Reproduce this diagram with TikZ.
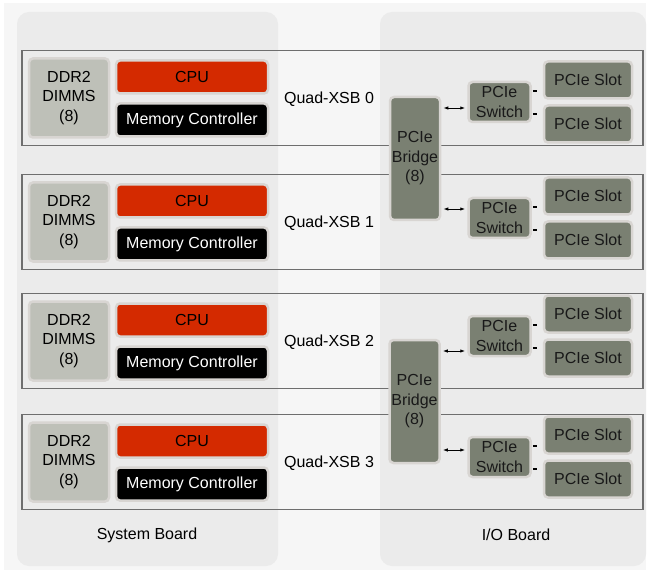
\documentclass[tikz,border=0pt]{standalone}
\usepackage{fontspec}
\setmainfont{Liberation Sans}
\usetikzlibrary{arrows.meta, positioning}
\definecolor{pagebg}{HTML}{F6F6F6}
\definecolor{panelbg}{HTML}{EBEBEB}
\definecolor{rowline}{HTML}{6E6E6E}
\definecolor{ddrfill}{HTML}{BEC0B8}
\definecolor{cpufill}{HTML}{D42A00}
\definecolor{pcifill}{HTML}{7A8072}
\definecolor{rim}{HTML}{D8D5D2}
\newcommand{\txt}{\fontsize{16}{19.5}\selectfont}
\tikzstyle{box} = [draw=rim, line width=2.5pt, rounded corners=4pt, inner sep=0pt, align=center, font=\txt]
\tikzstyle{ddr} = [box, fill=ddrfill, minimum width=80pt, minimum height=79pt]
\tikzstyle{cpu} = [box, fill=cpufill, minimum width=152pt, minimum height=33pt]
\tikzstyle{mc} = [box, fill=black, text=white, minimum width=152pt, minimum height=33pt]
\tikzstyle{pci} = [box, fill=pcifill, text=black!90]
\tikzstyle{quad} = [draw=rowline, line width=1.2pt, minimum width=621pt, minimum height=95pt, inner sep=0pt]
\tikzstyle{panel} = [fill=panelbg, rounded corners=12pt]
\tikzstyle{link} = [{Latex[length=5pt,width=3.5pt]}-{Latex[length=5pt,width=3.5pt]}, line width=0.9pt, shorten <=2pt, shorten >=2pt]
\tikzstyle{stub} = [line width=2.5pt]

\begin{document}
\begin{tikzpicture}[x=1pt, y=-1pt]
  \useasboundingbox (0,0) rectangle (648,572);
  \fill[white] (0,0) rectangle (648,572);
  \fill[pagebg] (4,3) rectangle (646,570);
  % the two boards
  \fill[panel] (17,12) rectangle (278,566);
  \fill[panel] (380,12) rectangle (646,566);
  \node[font=\txt] (sysb) at (147,535) {System Board};
  \node[font=\txt] (iob) at (516,535) {I/O Board};
  % one row per Quad-XSB
  \foreach \r/\y/\s in {0/98/102, 1/222/218, 2/341/336, 3/462/457} {
    \node[quad] (row\r) at (332.5,\y) {};
    \node[ddr] (ddr\r) at (69,\y) {DDR2\\DIMMS\\(8)};
    \node[cpu] (cpu\r) at (192,\y-21) {CPU};
    \node[mc] (mc\r) at (192,\y+22) {Memory Controller};
    \node[font=\txt] (xsb\r) at (329,\y+1) {Quad-XSB \r};
    \node[pci, minimum width=62pt, minimum height=40pt] (sw\r) at (499.5,\s) {PCIe\\Switch};
    \node[pci, minimum width=88pt, minimum height=37pt] (slot\r a) at (588,\s-22) {PCIe Slot};
    \node[pci, minimum width=88pt, minimum height=37pt] (slot\r b) at (588,\s+22) {PCIe Slot};
    \draw[stub] ([shift={(1,-11)}]sw\r.east) -- ++(4,0);
    \draw[stub] ([shift={(1,12)}]sw\r.east) -- ++(4,0);
  }
  % bridges
  \node[pci, minimum width=50pt, minimum height=123pt] (br0) at (415,158.5) {PCIe\\Bridge\\(8)};
  \node[pci, minimum width=50pt, minimum height=123pt] (br1) at (414.5,401.5) {PCIe\\Bridge\\(8)};
  \foreach \r/\b/\a in {0/0/108, 1/0/209, 2/1/351, 3/1/450}
    \draw[link] (br\b.east |- 0,\a) -- (sw\r.west |- 0,\a);
\end{tikzpicture}
\end{document}
